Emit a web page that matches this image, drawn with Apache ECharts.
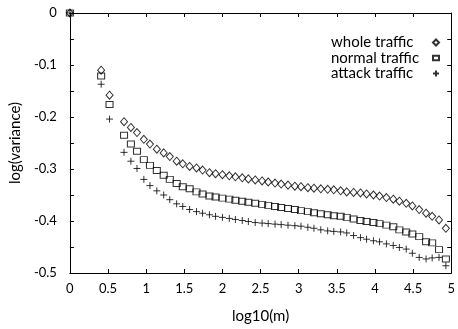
<!DOCTYPE html>
<html>
<head>
<meta charset="utf-8">
<script src="https://cdn.jsdelivr.net/npm/echarts@6/dist/echarts.min.js"></script>
<style>
  html, body { margin: 0; padding: 0; background: #fff; }
  #chart { width: 458px; height: 329px; }
</style>
</head>
<body>
<div id="chart"></div>
<script>
// log10(m) positions shared by the three series
const logM = [0, 0.41, 0.52, 0.71, 0.80, 0.88, 0.97, 1.05, 1.14, 1.23, 1.31, 1.40, 1.48, 1.57, 1.66, 1.74,
  1.83, 1.91, 2.00, 2.09, 2.17, 2.26, 2.34, 2.43, 2.52, 2.60, 2.69, 2.77, 2.86, 2.95, 3.03, 3.12,
  3.20, 3.29, 3.38, 3.46, 3.55, 3.63, 3.72, 3.81, 3.89, 3.98, 4.06, 4.15, 4.24, 4.32, 4.41, 4.49,
  4.58, 4.67, 4.75, 4.84, 4.93];

const wholeVar = [0, -0.110, -0.158, -0.209, -0.220, -0.230, -0.243, -0.252, -0.262, -0.269, -0.276, -0.285, -0.290, -0.295, -0.298, -0.302,
  -0.307, -0.309, -0.311, -0.313, -0.315, -0.317, -0.319, -0.321, -0.323, -0.325, -0.327, -0.329, -0.331, -0.333, -0.334, -0.336,
  -0.337, -0.338, -0.339, -0.340, -0.342, -0.344, -0.345, -0.346, -0.348, -0.350, -0.352, -0.355, -0.358, -0.362, -0.366, -0.371,
  -0.378, -0.385, -0.391, -0.398, -0.414];

const normalVar = [0, -0.121, -0.176, -0.235, -0.252, -0.266, -0.282, -0.293, -0.303, -0.312, -0.320, -0.328, -0.334, -0.338, -0.344, -0.348,
  -0.352, -0.354, -0.356, -0.358, -0.360, -0.362, -0.364, -0.366, -0.368, -0.370, -0.372, -0.374, -0.376, -0.378, -0.380, -0.382,
  -0.384, -0.386, -0.388, -0.390, -0.391, -0.393, -0.396, -0.399, -0.401, -0.403, -0.405, -0.408, -0.411, -0.417, -0.421, -0.425,
  -0.430, -0.440, -0.442, -0.455, -0.473];

const attackVar = [0, -0.137, -0.204, -0.268, -0.285, -0.299, -0.320, -0.332, -0.342, -0.350, -0.359, -0.367, -0.372, -0.378, -0.382, -0.385,
  -0.388, -0.391, -0.393, -0.395, -0.397, -0.399, -0.401, -0.403, -0.404, -0.405, -0.406, -0.407, -0.408, -0.409, -0.410, -0.412,
  -0.414, -0.417, -0.419, -0.420, -0.421, -0.423, -0.428, -0.432, -0.435, -0.438, -0.440, -0.444, -0.447, -0.451, -0.454, -0.462,
  -0.470, -0.473, -0.471, -0.470, -0.486];

const seriesNames = ["whole traffic", "normal traffic", "attack traffic"];

const ink = "#000";
const font = "Lato";
const plusPath = "path://M0,5L10,5M5,0L5,10";
const rectPath = "path://M0,0L7,0L7,5L0,5Z";

const chart = echarts.init(document.getElementById("chart"), null, { renderer: "canvas" });

const axisCommon = {
  type: "value",
  axisLine: { show: true, onZero: false, lineStyle: { color: ink, width: 1 } },
  axisTick: { show: true, inside: true, length: 4, lineStyle: { color: ink } },
  splitLine: { show: false }
};

const markerStyle = { color: "rgba(0,0,0,0)", borderColor: ink, borderWidth: 1 };

chart.setOption({
  animation: false,
  backgroundColor: "#fff",
  grid: { left: 69, right: 3, top: 13, bottom: 55, containLabel: false },
  legend: {
    orient: "vertical",
    left: 331,
    top: 35,
    padding: 0,
    align: "right",
    itemWidth: 6,
    itemHeight: 6,
    itemGap: 0.5,
    selectedMode: false,
    formatter: name => "{t|" + name + "}",
    textStyle: {
      rich: { t: { fontFamily: font, fontSize: 15, color: ink, width: 97, align: "left", lineHeight: 16 } }
    },
    data: [
      { name: seriesNames[0], icon: "diamond" },
      { name: seriesNames[1], icon: rectPath },
      { name: seriesNames[2], icon: plusPath }
    ]
  },
  xAxis: [
    Object.assign({}, axisCommon, {
      min: 0, max: 5, interval: 0.5,
      position: "bottom",
      name: "log10(m)",
      nameLocation: "middle",
      nameGap: 36,
      nameTextStyle: { fontFamily: font, fontSize: 15, color: ink },
      axisLabel: { fontFamily: font, fontSize: 13, color: ink, margin: 9 }
    }),
    Object.assign({}, axisCommon, {
      min: 0, max: 5, interval: 0.5,
      position: "top",
      axisLabel: { show: false }
    })
  ],
  yAxis: [
    Object.assign({}, axisCommon, {
      min: -0.5, max: 0, interval: 0.1,
      position: "left",
      name: "log(variance)",
      nameLocation: "middle",
      nameGap: 37,
      nameTextStyle: { fontFamily: font, fontSize: 15, color: ink },
      minorTick: { show: true, splitNumber: 2, length: 4, lineStyle: { color: ink } },
      axisLabel: { fontFamily: font, fontSize: 13, color: ink, margin: 13, formatter: v => String(Math.round(v * 10) / 10) }
    }),
    Object.assign({}, axisCommon, {
      min: -0.5, max: 0, interval: 0.1,
      position: "right",
      minorTick: { show: true, splitNumber: 2, length: 4, lineStyle: { color: ink } },
      axisLabel: { show: false }
    })
  ],
  series: [
    {
      name: seriesNames[0],
      type: "scatter",
      symbol: "diamond",
      symbolSize: [7, 8],
      clip: false,
      itemStyle: markerStyle,
      data: logM.map((x, i) => [x, wholeVar[i]])
    },
    {
      name: seriesNames[1],
      type: "scatter",
      symbol: "rect",
      symbolSize: [7, 6],
      clip: false,
      itemStyle: markerStyle,
      data: logM.map((x, i) => [x, normalVar[i]])
    },
    {
      name: seriesNames[2],
      type: "scatter",
      symbol: plusPath,
      symbolSize: 7,
      clip: false,
      itemStyle: markerStyle,
      data: logM.map((x, i) => [x, attackVar[i]])
    }
  ]
});
</script>
</body>
</html>
